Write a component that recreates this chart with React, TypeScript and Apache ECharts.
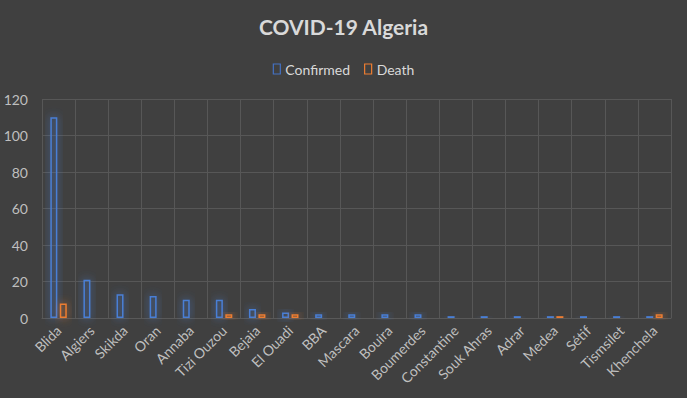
import React, { useEffect, useRef } from "react";
import * as echarts from "echarts";

const categories = ["Blida", "Algiers", "Skikda", "Oran", "Annaba", "Tizi Ouzou", "Bejaia", "El Ouadi", "BBA", "Mascara", "Bouira", "Boumerdes", "Constantine", "Souk Ahras", "Adrar", "Medea", "Sétif", "Tismsilet", "Khenchela"];
const confirmed = [110, 21, 13, 12, 10, 10, 5, 3, 2, 2, 2, 2, 1, 1, 1, 1, 1, 1, 1];
const death = [8, 0, 0, 0, 0, 2, 2, 2, 0, 0, 0, 0, 0, 0, 0, 1, 0, 0, 2];
const yTicks = { min: 0, max: 120, interval: 20 };

const FONT = "Lato, 'Open Sans', sans-serif";

export default function App() {
  const ref = useRef<HTMLDivElement>(null);
  useEffect(() => {
    if (!ref.current) return;
    const chart = echarts.init(ref.current, undefined, { renderer: "svg" });
    const mk = (name: string, data: number[], color: string) => ({
      name,
      type: "bar",
      data: data.map((v) => (v === 0 ? null : v)),
      barWidth: 7,
      barGap: "35%",
      itemStyle: {
        color: "rgba(0,0,0,0)",
        borderColor: color,
        borderWidth: 1.5,
        shadowColor: color,
        shadowBlur: 10,
      },
    });
    chart.setOption({
      animation: false,
      backgroundColor: "#404040",
      textStyle: { fontFamily: FONT },
      title: {
        text: "COVID-19 Algeria",
        left: "center",
        top: 11,
        textStyle: { color: "#d9d9d9", fontSize: 21, fontWeight: "bold", fontFamily: FONT },
      },
      legend: {
        top: 57,
        left: "center",
        itemWidth: 7,
        itemHeight: 10,
        itemGap: 14,
        icon: "rect",
        textStyle: { color: "#d9d9d9", fontSize: 14, fontFamily: FONT },
        data: [
          { name: "Confirmed", itemStyle: { color: "rgba(0,0,0,0)", borderColor: "#4472C4", borderWidth: 1.2, shadowBlur: 0 } },
          { name: "Death", itemStyle: { color: "rgba(0,0,0,0)", borderColor: "#ED7D31", borderWidth: 1.2, shadowBlur: 0 } },
        ],
      },
      grid: { left: 42, right: 16, top: 99, bottom: 80, containLabel: false },
      xAxis: {
        type: "category",
        data: categories,
        axisLine: { show: true, lineStyle: { color: "#595959" } },
        axisTick: { show: false },
        splitLine: { show: true, lineStyle: { color: "#575757", width: 1 } },
        axisLabel: { color: "#bfbfbf", fontSize: 14, rotate: 45, interval: 0, margin: 10, fontFamily: FONT },
      },
      yAxis: {
        type: "value",
        min: yTicks.min,
        max: yTicks.max,
        interval: yTicks.interval,
        axisLine: { show: false },
        axisTick: { show: false },
        splitLine: { lineStyle: { color: "#575757", width: 1 } },
        axisLabel: { color: "#bfbfbf", fontSize: 14, margin: 14, fontFamily: FONT },
      },
      series: [mk("Confirmed", confirmed, "#4a7fd6"), mk("Death", death, "#ED7D31")],
    });
    return () => chart.dispose();
  }, []);
  return (
    <div
      ref={ref}
      style={{ position: "fixed", left: 0, top: 0, width: 687, height: 398 }}
    />
  );
}
